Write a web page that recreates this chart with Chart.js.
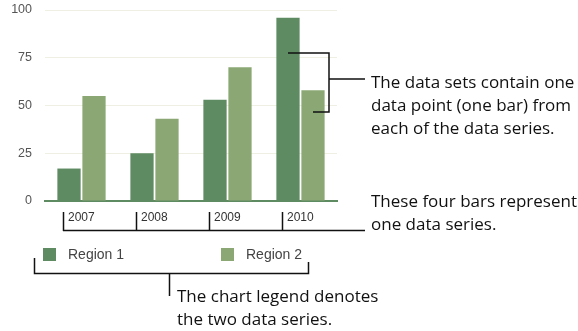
<!DOCTYPE html>
<html>
<head>
<meta charset="utf-8">
<script src="https://cdn.jsdelivr.net/npm/chart.js@4"></script>
<style>
  html, body { margin: 0; padding: 0; background: #fff; }
  #wrap { position: relative; width: 578px; height: 331px; }
  .note {
    position: absolute;
    font-family: "Open Sans", sans-serif;
    font-size: 17px;
    line-height: 23px;
    color: #111;
    white-space: nowrap;
  }
</style>
</head>
<body>
<div id="wrap">
  <canvas id="myChart" width="578" height="331"></canvas>
  <div class="note" style="left:371px; top:70px;">The data sets contain one<br>data point (one bar) from<br>each of the data series.</div>
  <div class="note" style="left:371px; top:189px;">These four bars represent<br>one data series.</div>
  <div class="note" style="left:177px; top:284px;">The chart legend denotes<br>the two data series.</div>
</div>
<script>
// years along the x-axis
var years = ["2007", "2008", "2009", "2010"];
// one array per series
var region1 = [17, 25, 53, 96];
var region2 = [55, 43, 70, 58];
var yTicks = [0, 25, 50, 75, 100];

var dark = "#5f8b63";
var light = "#8ba874";

// callout lines and the little legend under the axis
var callouts = {
  id: "callouts",
  afterDraw: function (chart) {
    var ctx = chart.ctx;
    var x = chart.scales.x;
    var bars1 = chart.getDatasetMeta(0).data;
    var bars2 = chart.getDatasetMeta(1).data;
    ctx.save();
    ctx.strokeStyle = "#111";
    ctx.lineWidth = 1.5;

    // bracket over the two 2010 bars
    var bx = 329;
    ctx.beginPath();
    ctx.moveTo(bars1[3].x, 53); ctx.lineTo(bx, 53);
    ctx.lineTo(bx, 112); ctx.lineTo(bars2[3].x, 112);
    ctx.moveTo(bx, 79); ctx.lineTo(365, 79);
    ctx.stroke();

    // bracket under the year labels
    ctx.beginPath();
    for (var i = 0; i < years.length; i++) {
      var tx = Math.round(x.getPixelForValue(i) - 19) + 0.5;
      ctx.moveTo(tx, 212); ctx.lineTo(tx, 231);
    }
    ctx.moveTo(Math.round(x.getPixelForValue(0) - 19), 230.5);
    ctx.lineTo(365, 230.5);
    ctx.stroke();

    // legend
    var items = chart.data.datasets;
    var lx = [43, 221];
    ctx.font = "14px 'Liberation Sans', Arial, sans-serif";
    ctx.textBaseline = "middle";
    for (var j = 0; j < items.length; j++) {
      ctx.fillStyle = items[j].backgroundColor;
      ctx.fillRect(lx[j], 248, 13, 13);
      ctx.fillStyle = "#444";
      ctx.fillText(items[j].label, lx[j] + 25, 255);
    }

    // bracket under the legend
    ctx.beginPath();
    ctx.moveTo(34.5, 258); ctx.lineTo(34.5, 273.5);
    ctx.lineTo(308.5, 273.5); ctx.lineTo(308.5, 262);
    ctx.moveTo(169.5, 273.5); ctx.lineTo(169.5, 296);
    ctx.stroke();
    ctx.restore();
  }
};

var ctx = document.getElementById("myChart");
var myChart = new Chart(ctx, {
  type: "bar",
  data: {
    labels: years,
    datasets: [
      { label: "Region 1", data: region1, backgroundColor: dark },
      { label: "Region 2", data: region2, backgroundColor: light }
    ]
  },
  options: {
    responsive: false,
    animation: false,
    categoryPercentage: 0.685,
    barPercentage: 0.93,
    layout: { padding: { top: 10, right: 241, bottom: 0, left: 0 } },
    plugins: {
      legend: { display: false },
      tooltip: { enabled: false }
    },
    scales: {
      x: {
        grid: { display: false, drawTicks: false },
        border: { color: dark, width: 2 },
        ticks: {
          align: "start",
          labelOffset: -13.5,
          padding: 9,
          color: "#333",
          font: { family: "'Liberation Sans', Arial, sans-serif", size: 12 }
        },
        afterFit: function (s) { s.height = 130; }
      },
      y: {
        min: 0,
        max: 100,
        grid: { color: "#efefe3", drawTicks: false },
        border: { display: false },
        afterBuildTicks: function (s) {
          s.ticks = yTicks.map(function (v) { return { value: v }; });
        },
        ticks: {
          padding: 13,
          color: "#555",
          font: { family: "'Liberation Sans', Arial, sans-serif", size: 12.5 }
        },
        afterFit: function (s) {
          s.width = 45;
          s.paddingTop = 0;
          s.paddingBottom = 0;
        }
      }
    }
  },
  plugins: [callouts]
});
</script>
</body>
</html>
